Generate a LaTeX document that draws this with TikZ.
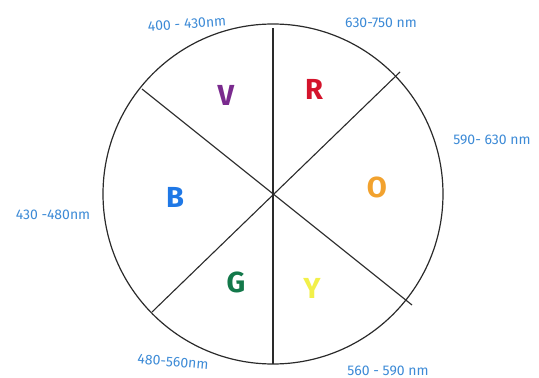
\documentclass[tikz,border=0pt]{standalone}
\usepackage{fontspec}
\setmainfont{Fira Sans}
\definecolor{lblblue}{HTML}{3C8AD6}
\definecolor{cV}{HTML}{7A2A8E}
\definecolor{cR}{HTML}{D4142C}
\definecolor{cB}{HTML}{1F78E6}
\definecolor{cO}{HTML}{F2A22E}
\definecolor{cG}{HTML}{13784A}
\definecolor{cY}{HTML}{F2F04A}
\definecolor{ink}{HTML}{2A2A2A}
\tikzset{
  rangelbl/.style={text=lblblue, font=\fontsize{14}{16}\selectfont, inner sep=0pt},
  colourlbl/.style={font=\bfseries\fontsize{29}{32}\selectfont, inner sep=0pt},
  rim/.style={draw=ink, line width=1.2pt},
  divider/.style={draw=ink, line width=1.1pt}
}
\begin{document}
\begin{tikzpicture}[x=1pt,y=-1pt]
\useasboundingbox (0,0) rectangle (539,378);
\coordinate (c) at (273,194);
\draw[rim] (c) circle [radius=170];
% divider end points
\coordinate (top) at (273,28);
\coordinate (bot) at (273,364);
\coordinate (ul) at (142,89);
\coordinate (lr) at (412,305);
\coordinate (ur) at (400,72);
\coordinate (ll) at (152,312);
\draw[divider] (top) -- (bot);
\draw[divider] (ul) -- (lr);
\draw[divider] (ur) -- (ll);
% colour letters
\node[colourlbl, text=cV] (V) at (226,95) {V};
\node[colourlbl, text=cR] (R) at (314,89) {R};
\node[colourlbl, text=cB] (B) at (175,197) {B};
\node[colourlbl, text=cO] (O) at (377,187) {O};
\node[colourlbl, text=cG] (G) at (236,282) {G};
\node[colourlbl, text=cY] (Y) at (312,288) {Y};
% wavelength ranges
\node[rangelbl, rotate=4] (l1) at (187,24) {400 - 430nm};
\node[rangelbl] (l2) at (381,23) {630-750 nm};
\node[rangelbl] (l3) at (492,140) {590- 630 nm};
\node[rangelbl] (l4) at (53,215) {430 -480nm};
\node[rangelbl, rotate=-5] (l5) at (173,362) {480-560nm};
\node[rangelbl] (l6) at (388,371) {560 - 590 nm};
\end{tikzpicture}
\end{document}
